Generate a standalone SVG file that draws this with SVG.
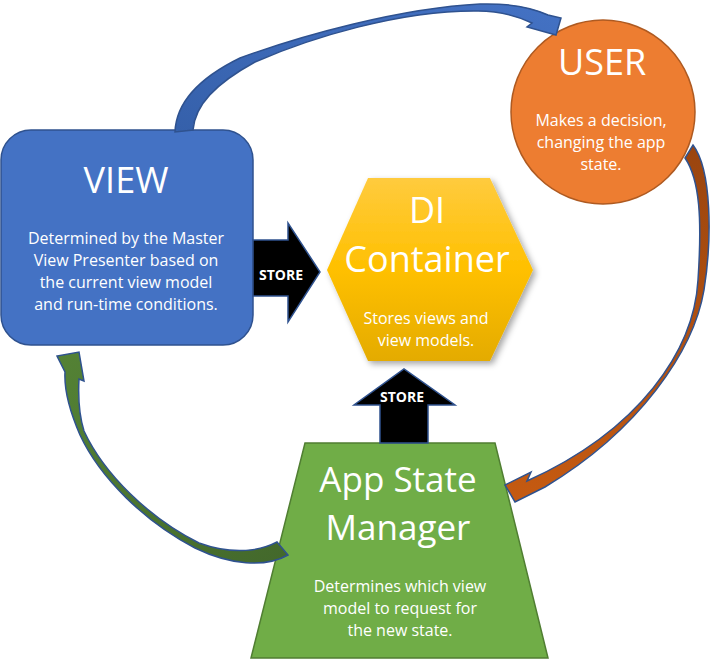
<svg xmlns="http://www.w3.org/2000/svg" width="710" height="661" viewBox="0 0 710 661">
<defs>
<style>
.t{font-family:"Open Sans","Liberation Sans",sans-serif;fill:#fff;text-anchor:middle}
.h{font-size:36px}
.b{font-size:16px}
.s{font-family:"Open Sans","Liberation Sans",sans-serif;font-weight:bold;font-size:14px;fill:#fff;text-anchor:middle}
.arr{stroke:#2F528F;stroke-width:1.5;stroke-linejoin:miter}
</style>
<linearGradient id="gy" x1="0" y1="0" x2="0" y2="1">
<stop offset="0" stop-color="#FFCB3E"/>
<stop offset="0.5" stop-color="#FFC000"/>
<stop offset="1" stop-color="#E4AB02"/>
</linearGradient>
<linearGradient id="gb" x1="0" y1="1" x2="1" y2="0">
<stop offset="0" stop-color="#3560AA"/>
<stop offset="1" stop-color="#4472C4"/>
</linearGradient>
<linearGradient id="go" x1="0" y1="0" x2="0" y2="1">
<stop offset="0" stop-color="#9A450F"/>
<stop offset="1" stop-color="#C55A11"/>
</linearGradient>
<linearGradient id="gg" x1="1" y1="1" x2="0" y2="0">
<stop offset="0" stop-color="#43682B"/>
<stop offset="1" stop-color="#548235"/>
</linearGradient>
<filter id="sh" x="-10%" y="-10%" width="130%" height="130%">
<feDropShadow dx="3" dy="3" stdDeviation="3" flood-color="#000" flood-opacity="0.35"/>
</filter>
</defs>

<g id="view">
<rect x="1" y="130" width="252" height="215" rx="30" fill="#4472C4" stroke="#2F528F" stroke-width="1.5"/>
<text class="t h" x="126" y="193">VIEW</text>
<text class="t b" x="126" y="244">Determined by the Master</text>
<text class="t b" x="126" y="266">View Presenter based on</text>
<text class="t b" x="126" y="288">the current view model</text>
<text class="t b" x="126" y="310">and run-time conditions.</text>
</g>

<g id="user">
<circle cx="603" cy="112" r="92" fill="#ED7D31" stroke="#AE5A21" stroke-width="1.5"/>
<text class="t h" x="602" y="75">USER</text>
<text class="t b" x="601" y="126">Makes a decision,</text>
<text class="t b" x="601" y="148">changing the app</text>
<text class="t b" x="601" y="170">state.</text>
</g>

<g id="di-container">
<polygon points="368,178 490,178 533,270 490,361 368,361 327,270" fill="url(#gy)" filter="url(#sh)"/>
<text class="t h" x="427" y="223">DI</text>
<text class="t h" x="427" y="272">Container</text>
<text class="t b" x="426" y="324">Stores views and</text>
<text class="t b" x="426" y="346">view models.</text>
</g>

<g id="app-state-manager">
<polygon points="305,443 495,443 548,658 251,658" fill="#70AD47" stroke="#507E32" stroke-width="1.5"/>
<text class="t" style="font-size:35px" x="398" y="492">App State</text>
<text class="t" style="font-size:35px" x="398" y="540">Manager</text>
<text class="t b" x="400" y="592">Determines which view</text>
<text class="t b" x="400" y="614">model to request for</text>
<text class="t b" x="400" y="636">the new state.</text>
</g>

<g id="connectors">
<g id="store-view-di">
<polygon class="arr" points="253,240 288,240 288,223 320,272 288,322 288,296 253,296" fill="#000"/>
<text class="s" x="281" y="280">STORE</text>
</g>
<g id="store-asm-di">
<polygon class="arr" points="380,443 380,405 354,405 404,369 455,405 428,405 428,443" fill="#000"/>
<text class="s" x="402" y="402">STORE</text>
</g>
<path id="view-to-user" class="arr" fill="url(#gb)" d="M175,132 C176,105 195,80 240,58 C300,36 400,8 480,4 C515,3 535,9 548,15 L561,18 L556,35 L527,27 L532,23 C515,15 495,11 478,11 C400,10 310,38 255,62 C215,84 195,105 193,130 Z"/>
<path id="user-to-asm" class="arr" fill="url(#go)" d="M693,145 C712,170 712,240 704,290 C694,350 640,430 545,487 L515,502 L505,485 L531,472 L527,481 C640,430 694,350 698,280 C702,220 700,180 685,158 Z"/>
<path id="asm-to-view" class="arr" fill="url(#gg)" d="M288,555 C265,568 230,565 195,548 C145,522 100,478 80,435 C70,412 64,390 65,372 L57,356 L79,352 L84,381 L79,379 C78,398 79,415 84,431 C104,474 149,518 199,543 C235,556 262,550 277,542 Z"/>
</g>
</svg>
